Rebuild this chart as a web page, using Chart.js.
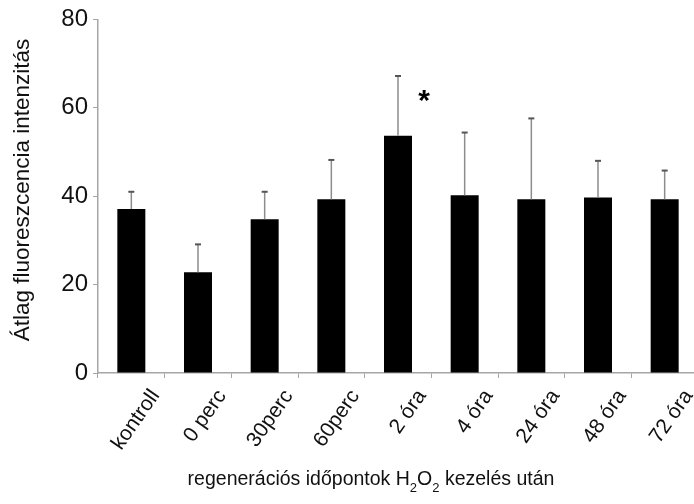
<!DOCTYPE html>
<html>
<head>
<meta charset="utf-8">
<script src="https://cdn.jsdelivr.net/npm/chart.js@4/dist/chart.umd.min.js"></script>
<style>
  html, body { margin: 0; padding: 0; background: #fff; overflow: hidden; }
  #wrap { position: relative; width: 700px; height: 504px; }
</style>
</head>
<body>
<div id="wrap"><canvas id="fluoChart"></canvas></div>
<script>
// regenerációs időpontok
var categories = ["kontroll", "0 perc", "30perc", "60perc", "2 óra", "4 óra", "24 óra", "48 óra", "72 óra"];
// átlag intenzitás és szórás (csak felfelé rajzolva)
var means = [37.1, 22.8, 34.8, 39.3, 53.7, 40.2, 39.3, 39.7, 39.3];
var sds = [3.9, 6.3, 6.2, 8.9, 13.5, 14.2, 18.3, 8.3, 6.5];
var yTicks = [0, 20, 40, 60, 80];
var significant = [4]; // csillaggal jelölt időpont

var FONT = "'Liberation Sans', Arial, sans-serif";
var AXIS_GREY = "#a6a6a6";

var errorBars = {
  id: "errorBars",
  afterDatasetsDraw: function(chart) {
    var ctx = chart.ctx;
    var y = chart.scales.y;
    var meta = chart.getDatasetMeta(0);
    ctx.save();
    meta.data.forEach(function(bar, i) {
      var top = y.getPixelForValue(means[i] + sds[i]);
      var base = y.getPixelForValue(means[i]);
      ctx.strokeStyle = "#8c8c8c";
      ctx.lineWidth = 1.5;
      ctx.beginPath();
      ctx.moveTo(bar.x, base);
      ctx.lineTo(bar.x, top);
      ctx.stroke();
      ctx.strokeStyle = "#555";
      ctx.lineWidth = 2;
      ctx.beginPath();
      ctx.moveTo(bar.x - 3, top);
      ctx.lineTo(bar.x + 3, top);
      ctx.stroke();
    });
    // szignifikancia jel
    ctx.fillStyle = "#000";
    ctx.font = "bold 30px " + FONT;
    ctx.textAlign = "center";
    ctx.textBaseline = "middle";
    significant.forEach(function(i) {
      var bar = meta.data[i];
      ctx.fillText("*", bar.x + 26, y.getPixelForValue(means[i] + sds[i] - 4.5) + 6);
    });
    ctx.restore();
  }
};

var axisTitles = {
  id: "axisTitles",
  afterDraw: function(chart) {
    var ctx = chart.ctx;
    ctx.save();
    ctx.fillStyle = "#111";
    // y tengely felirat
    ctx.font = "22.5px " + FONT;
    ctx.textAlign = "center";
    ctx.textBaseline = "middle";
    ctx.translate(23, 190);
    ctx.rotate(-Math.PI / 2);
    ctx.fillText("Átlag fluoreszcencia intenzitás", 0, 0);
    ctx.restore();

    // x tengely felirat, alsó indexekkel
    ctx.save();
    ctx.fillStyle = "#111";
    ctx.textBaseline = "alphabetic";
    ctx.textAlign = "left";
    var parts = [
      { t: "regenerációs időpontok H", sub: false },
      { t: "2", sub: true },
      { t: "O", sub: false },
      { t: "2", sub: true },
      { t: " kezelés után", sub: false }
    ];
    var total = 0;
    parts.forEach(function(p) {
      ctx.font = (p.sub ? "13px " : "19.5px ") + FONT;
      p.w = ctx.measureText(p.t).width;
      total += p.w;
    });
    var x = 371 - total / 2, base = 485;
    parts.forEach(function(p) {
      ctx.font = (p.sub ? "13px " : "19.5px ") + FONT;
      ctx.fillText(p.t, x, p.sub ? base + 7 : base);
      x += p.w;
    });
    ctx.restore();
  }
};

new Chart(document.getElementById("fluoChart"), {
  type: "bar",
  data: {
    labels: categories,
    datasets: [{
      data: means,
      backgroundColor: "#000",
      borderWidth: 0,
      barPercentage: 0.42,
      categoryPercentage: 1
    }]
  },
  options: {
    responsive: true,
    maintainAspectRatio: false,
    animation: false,
    layout: { padding: { top: 17, right: 2, left: 0, bottom: 0 } },
    plugins: { legend: { display: false }, tooltip: { enabled: false } },
    scales: {
      x: {
        grid: { display: true, drawOnChartArea: false, tickLength: 5, color: AXIS_GREY, offset: true },
        border: { color: AXIS_GREY, width: 1.5 },
        ticks: {
          autoSkip: false, maxRotation: 55, minRotation: 55,
          labelOffset: 24, padding: 7,
          color: "#111", font: { family: FONT, size: 21 }
        },
        afterFit: function(scale) { scale.height = 131; }
      },
      y: {
        min: 0, max: 80,
        afterBuildTicks: function(scale) { scale.ticks = yTicks.map(function(v) { return { value: v }; }); },
        grid: { display: true, drawOnChartArea: false, tickLength: 5, color: AXIS_GREY },
        border: { color: AXIS_GREY, width: 1.5 },
        ticks: { color: "#111", padding: 5, font: { family: FONT, size: 24 } },
        afterFit: function(scale) { scale.width = 98; }
      }
    }
  },
  plugins: [errorBars, axisTitles]
});
</script>
</body>
</html>
